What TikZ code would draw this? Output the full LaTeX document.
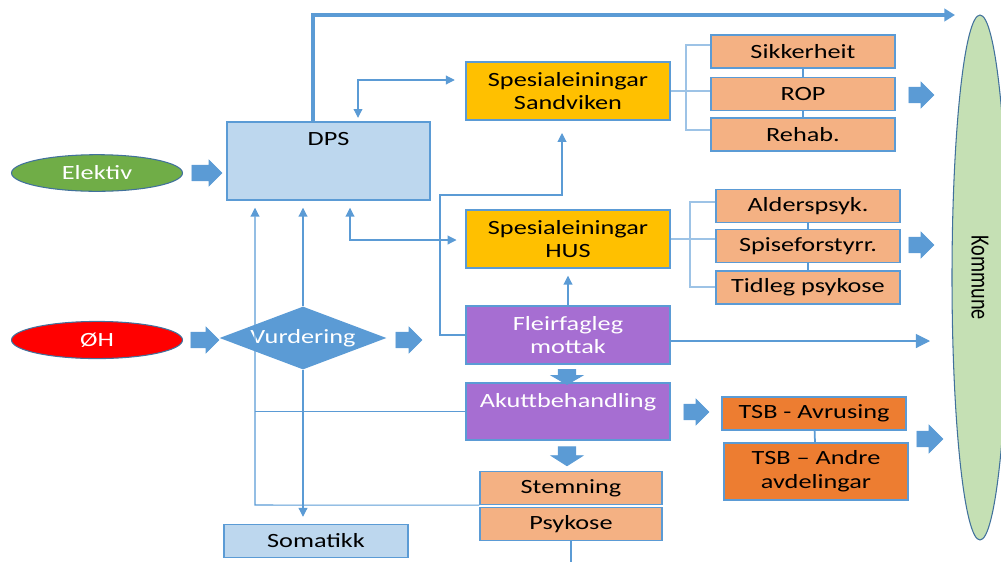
\documentclass[tikz,border=0pt]{standalone}
\usepackage{fontspec}
\setmainfont{Carlito}[FakeStretch=1.3]
\newfontfamily\plainfont{Carlito}
\usetikzlibrary{arrows.meta,shapes.geometric,shapes.arrows}
\definecolor{lineblue}{HTML}{5B9BD5}
\definecolor{paleblue}{HTML}{9DC3E6}
\definecolor{dpsblue}{HTML}{BDD7EE}
\definecolor{darkblue}{HTML}{41719C}
\definecolor{gold}{HTML}{FFC000}
\definecolor{peach}{HTML}{F4B183}
\definecolor{tsborange}{HTML}{ED7D31}
\definecolor{lilac}{HTML}{A66ED2}
\definecolor{leaf}{HTML}{70AD47}
\definecolor{kgreen}{HTML}{C5E0B4}
\tikzset{>={Triangle[width=5pt,length=5pt]}}
\tikzstyle{unitbox}=[
	 rectangle, draw=lineblue, line width=0.8pt,
	 minimum width=204*0.02cm, minimum height=58*0.02cm,
	 align=center, inner sep=0pt
    ]
\tikzstyle{subbox}=[unitbox, fill=peach, minimum width=184*0.02cm, minimum height=33*0.02cm]
\tikzstyle{acute}=[unitbox, fill=lilac, text=white]
\tikzstyle{entry}=[ellipse, draw=darkblue, line width=0.6pt, text=white,
	 minimum width=171*0.02cm, minimum height=36*0.02cm]
\tikzstyle{conn}=[lineblue, line width=0.6pt]
\tikzstyle{brace}=[paleblue, line width=0.8pt]
\tikzstyle{fatarrow}=[single arrow, fill=lineblue, draw=lineblue, line width=0.4pt, inner xsep=0pt]
\newcommand{\fatarrow}[7]{\node[fatarrow, minimum height=#3*0.02cm, inner ysep=#4*0.01cm, single arrow head extend=#5*0.02cm, single arrow tip angle=#6, rotate=#7] (#1) at (#2) {};}

\begin{document}
\begin{tikzpicture}[x=0.02cm, y=-0.02cm, font=\fontsize{11.5}{13.5}\selectfont]
\useasboundingbox (0,0) rectangle (1001,562);

\node[ellipse, draw=darkblue, fill=kgreen, line width=0.6pt, rotate=-90, inner sep=0pt,
	 minimum width=525*0.02cm, minimum height=56*0.02cm] (kommune) at (980,277.5)
	 {\plainfont\scalebox{1}[1.3]{Kommune}};

\node[unitbox, fill=dpsblue, minimum width=203*0.02cm, minimum height=78*0.02cm,
	 label={[anchor=north, yshift=-3pt]north:DPS}] (dps) at (328.5,161) {};
\node[entry, fill=leaf] (elektiv) at (97,173) {Elektiv};
\node[entry, fill=red] (oh) at (97,340) {ØH};
\node[diamond, aspect=2.65, fill=lineblue, text=white, inner sep=0pt,
	 minimum width=167*0.02cm, minimum height=63*0.02cm] (vurd) at (303,338) {Vurdering};

\node[unitbox, fill=gold] (sandv) at (568,91) {Spesialeiningar\\Sandviken};
\node[unitbox, fill=gold] (hus) at (568,239) {Spesialeiningar\\HUS};
\node[acute] (fleir) at (568,335) {Fleirfagleg\\mottak};
\node[acute, minimum height=57*0.02cm,
	 label={[anchor=north, yshift=-3pt, text=white]north:Akuttbehandling}] (akutt) at (568,411.5) {};

\node[subbox] (sikk) at (803,51.5) {Sikkerheit};
\node[subbox] (rop) at (803,94) {ROP};
\node[subbox] (rehab) at (803,134.5) {Rehab.};
\node[subbox] (alder) at (808,206) {Alderspsyk.};
\node[subbox] (spise) at (808,246) {Spiseforstyrr.};
\node[subbox] (tidleg) at (808,287.5) {Tidleg psykose};
\node[subbox, minimum width=182*0.02cm] (stemn) at (571,488) {Stemning};
\node[subbox, minimum width=182*0.02cm] (psyk) at (571,524) {Psykose};
\node[subbox, fill=dpsblue] (somat) at (316,541) {Somatikk};
\node[subbox, fill=tsborange] (avrus) at (814,413.5) {TSB - Avrusing};
\node[subbox, fill=tsborange, minimum height=57*0.02cm] (andre) at (816,471.5) {TSB – Andre\\avdelingar};

\fatarrow{b1}{203,173}{30}{15}{5}{90}{0}
\fatarrow{b2}{201,340}{28}{15}{5}{90}{0}
\fatarrow{b3}{405,340}{26}{15}{5}{90}{0}
\fatarrow{b4}{917.5,95}{25}{15}{5}{90}{0}
\fatarrow{b5}{917.5,245}{25}{15}{5}{90}{0}
\fatarrow{b6}{567,374.5}{15}{17}{7}{120}{-90}
\fatarrow{b7}{567,453.5}{19}{17}{7}{115}{-90}
\fatarrow{b8}{692.5,412}{25}{15}{5}{90}{0}
\fatarrow{b9}{926,439}{26}{15}{6}{90}{0}

\coordinate (t0) at (313,15);
\coordinate (topend) at (955,15);
\draw[conn, line width=2pt, -{Triangle[width=7pt,length=6pt]}] (dps.north -| t0) -- (t0) -- (topend);

\coordinate (s1) at (686,45);
\coordinate (s2) at (686,130);
\draw[brace] (sikk.west |- s1) -- (s1) -- (s2) -- (rehab.west |- s2);
\draw[brace] (sandv.east) -- (rop.west |- sandv.east);
\coordinate (h1) at (690,202);
\coordinate (h2) at (690,287);
\draw[brace] (alder.west |- h1) -- (h1) -- (h2) -- (tidleg.west |- h2);
\draw[brace] (hus.east) -- (spise.west |- hus.east);
\draw[conn] (sikk) -- (rop);
\draw[conn] (rop) -- (rehab);
\draw[conn] (alder) -- (spise);
\draw[conn] (spise) -- (tidleg);
\draw[conn, line width=1pt] (avrus) -- (andre);

\coordinate (d1) at (358,80);
\draw[conn, <->, shorten <=2pt, shorten >=6pt] (dps.north -| d1) -- (d1) -- (sandv.west |- d1);
\coordinate (d2) at (350,240);
\draw[conn, <->, shorten <=4pt, shorten >=5pt] (dps.south -| d2) -- (d2) -- (hus.west |- d2);
\coordinate (d3) at (255,505);
\draw[conn, ->, shorten >=4pt] (stemn.south west) -- (d3) -- (dps.south -| d3);
\draw[conn] (akutt.west) -- (akutt.west -| d3);
\draw[conn, ->, shorten >=4pt] (vurd.north) -- (dps.south -| vurd.north);
\draw[conn, ->, shorten >=4pt] (vurd.south) -- (somat.north -| vurd.south);

\coordinate (f1) at (440,195);
\coordinate (f2) at (562,195);
\draw[conn, ->, shorten >=7pt] (fleir.west) -| (f1) -- (f2) -- (sandv.south -| f2);
\draw[conn, ->, shorten >=4pt] (fleir) -- (hus);
\coordinate (k1) at (930,341);
\draw[conn, -{Triangle[width=8pt,length=8pt]}] (fleir.east |- k1) -- (k1);
\coordinate (offpage) at (571,562);
\draw[conn, line width=1pt] (psyk.south) -- (offpage);

\end{tikzpicture}
\end{document}
